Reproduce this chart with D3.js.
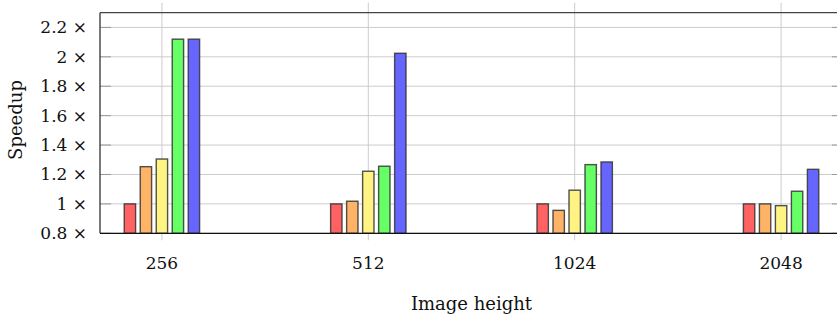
<!DOCTYPE html>
<html>
<head>
<meta charset="utf-8">
<script src="https://cdn.jsdelivr.net/npm/d3@7"></script>
<style>
  html, body { margin: 0; padding: 0; background: #fff; }
  svg { display: block; }
  text { font-family: "DejaVu Serif", "Liberation Serif", serif; fill: #111; }
</style>
</head>
<body>
<svg id="chart" width="837" height="320"></svg>
<script>
// Image heights on the x axis
const categories = ["256", "512", "1024", "2048"];
// Speedup of each variant, one value per image height
const seriesNames = ["s1", "s2", "s3", "s4", "s5"];
const speedupS1 = [1.0, 1.0, 1.0, 1.0];
const speedupS2 = [1.253, 1.018, 0.956, 1.0];
const speedupS3 = [1.305, 1.222, 1.093, 0.988];
const speedupS4 = [2.12, 1.256, 1.267, 1.086];
const speedupS5 = [2.12, 2.024, 1.285, 1.235];
const seriesColors = ["#ff6262", "#ffb366", "#fff383", "#66ff66", "#6666ff"];
const yTicks = [0.8, 1.0, 1.2, 1.4, 1.6, 1.8, 2.0, 2.2];
const yDomain = [0.8, 2.3];

const seriesValues = [speedupS1, speedupS2, speedupS3, speedupS4, speedupS5];

const svg = d3.select("#chart");
const plotLeft = 100, plotRight = 843, plotTop = 12.7, plotBottom = 233.3;

const x = d3.scalePoint().domain(categories).range([plotLeft, plotRight]).padding(0.3);
const y = d3.scaleLinear().domain(yDomain).range([plotBottom, plotTop]);
const inner = d3.scaleBand().domain(seriesNames).range([-40, 40])
  .paddingInner(0.29).paddingOuter(0.145);

// grid lines
const grid = svg.append("g");
grid.selectAll("line.hy").data(yTicks).join("line")
  .attr("x1", plotLeft).attr("x2", plotRight)
  .attr("y1", d => y(d)).attr("y2", d => y(d))
  .attr("stroke", "#cccccc").attr("stroke-width", 1);
grid.selectAll("line.vx").data(categories).join("line")
  .attr("x1", d => x(d)).attr("x2", d => x(d))
  .attr("y1", plotTop - 10).attr("y2", plotBottom + 7)
  .attr("stroke", "#cccccc").attr("stroke-width", 1);

// bars
const rows = [];
seriesNames.forEach((s, i) => {
  categories.forEach((c, j) => rows.push({ s, i, c, v: seriesValues[i][j] }));
});
svg.append("g").selectAll("rect").data(rows).join("rect")
  .attr("x", d => x(d.c) + inner(d.s))
  .attr("width", inner.bandwidth())
  .attr("y", d => y(d.v))
  .attr("height", d => y(yDomain[0]) - y(d.v))
  .attr("fill", d => seriesColors[d.i])
  .attr("stroke", "#333")
  .attr("stroke-opacity", 0.85)
  .attr("stroke-width", 1.4);

// y ticks inside the frame
const ticks = svg.append("g");
ticks.selectAll("line.l").data(yTicks).join("line")
  .attr("x1", plotLeft).attr("x2", plotLeft + 11)
  .attr("y1", d => y(d)).attr("y2", d => y(d))
  .attr("stroke", "#999").attr("stroke-width", 1);
ticks.selectAll("line.r").data(yTicks).join("line")
  .attr("x1", plotRight - 11).attr("x2", plotRight)
  .attr("y1", d => y(d)).attr("y2", d => y(d))
  .attr("stroke", "#999").attr("stroke-width", 1);

// frame
svg.append("line").attr("x1", plotLeft).attr("x2", plotRight).attr("y1", plotTop).attr("y2", plotTop)
  .attr("stroke", "#444").attr("stroke-width", 1.2);
svg.append("line").attr("x1", plotLeft).attr("x2", plotLeft).attr("y1", plotTop).attr("y2", plotBottom)
  .attr("stroke", "#222").attr("stroke-width", 1.2);
svg.append("line").attr("x1", plotRight).attr("x2", plotRight).attr("y1", plotTop).attr("y2", plotBottom)
  .attr("stroke", "#222").attr("stroke-width", 1.2);
svg.append("line").attr("x1", plotLeft).attr("x2", plotRight).attr("y1", plotBottom).attr("y2", plotBottom)
  .attr("stroke", "#111").attr("stroke-width", 1.3);

// tick labels
const fmt = v => (Math.round(v * 10) / 10).toString();
svg.append("g").selectAll("text").data(yTicks).join("text")
  .attr("x", 87).attr("y", d => y(d) + 6)
  .attr("text-anchor", "end")
  .attr("font-size", 17)
  .text(d => fmt(d) + " \u00d7");

svg.append("g").selectAll("text").data(categories).join("text")
  .attr("x", d => x(d)).attr("y", 268.5)
  .attr("text-anchor", "middle")
  .attr("font-size", 17)
  .text(d => d);

// axis titles
svg.append("text")
  .attr("x", (plotLeft + plotRight) / 2).attr("y", 310)
  .attr("text-anchor", "middle").attr("font-size", 18)
  .text("Image height");
svg.append("text")
  .attr("transform", `translate(22,${(plotTop + plotBottom) / 2 - 3}) rotate(-90)`)
  .attr("text-anchor", "middle").attr("font-size", 18)
  .text("Speedup");
</script>
</body>
</html>
